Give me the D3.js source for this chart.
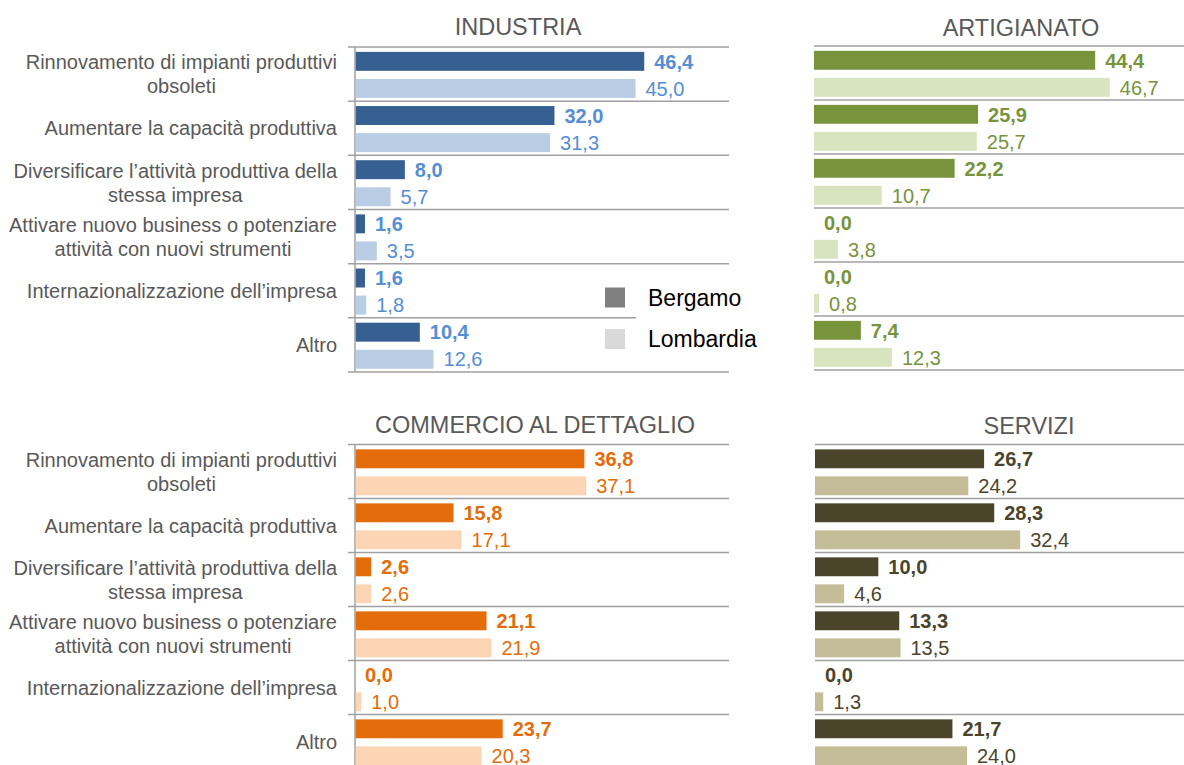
<!DOCTYPE html>
<html><head><meta charset="utf-8">
<script src="https://cdn.jsdelivr.net/npm/d3@7"></script>
<style>
body{margin:0;background:#fff;}
text{font-family:Arial,"Liberation Sans",sans-serif;}
</style></head>
<body>
<svg id="chart" width="1184" height="765"></svg>
<script>
const categories = [
  ["Rinnovamento di impianti produttivi","obsoleti"],
  ["Aumentare la capacità produttiva"],
  ["Diversificare l’attività produttiva della","stessa impresa"],
  ["Attivare nuovo business o potenziare","attività con nuovi strumenti"],
  ["Internazionalizzazione dell’impresa"],
  ["Altro"]
];
const seriesNames = ["Bergamo","Lombardia"];
const panelTitles = ["INDUSTRIA","ARTIGIANATO","COMMERCIO AL DETTAGLIO","SERVIZI"];
const industriaBergamo   = [46.4, 32.0, 8.0, 1.6, 1.6, 10.4];
const industriaLombardia = [45.0, 31.3, 5.7, 3.5, 1.8, 12.6];
const artigianatoBergamo   = [44.4, 25.9, 22.2, 0.0, 0.0, 7.4];
const artigianatoLombardia = [46.7, 25.7, 10.7, 3.8, 0.8, 12.3];
const commercioBergamo   = [36.8, 15.8, 2.6, 21.1, 0.0, 23.7];
const commercioLombardia = [37.1, 17.1, 2.6, 21.9, 1.0, 20.3];
const serviziBergamo   = [26.7, 28.3, 10.0, 13.3, 0.0, 21.7];
const serviziLombardia = [24.2, 32.4, 4.6, 13.5, 1.3, 24.0];
const xMax = 60;

const panels = [
  {title:panelTitles[0], b:industriaBergamo, l:industriaLombardia, cb:"#376092", cl:"#B9CDE5", ct:"#558ED5",
   x0:355, x1:729, y0:47, y1:372, tx:518, ty:35, labels:true, axis:true},
  {title:panelTitles[1], b:artigianatoBergamo, l:artigianatoLombardia, cb:"#77933C", cl:"#D7E4BD", ct:"#77933C",
   x0:814, x1:1194, y0:46, y1:370, tx:1021, ty:36, labels:false, axis:false},
  {title:panelTitles[2], b:commercioBergamo, l:commercioLombardia, cb:"#E46C0A", cl:"#FCD5B5", ct:"#E46C0A",
   x0:355, x1:729, y0:444.5, y1:768.5, tx:535, ty:433, labels:true, axis:true},
  {title:panelTitles[3], b:serviziBergamo, l:serviziLombardia, cb:"#4A452A", cl:"#C4BD97", ct:"#4A452A",
   x0:815, x1:1195, y0:444.5, y1:768.5, tx:1029, ty:434, labels:false, axis:false}
];

const svg = d3.select("#chart");
const fmt = v => d3.format(".1f")(v).replace(".", ",");
const catIdx = d3.range(categories.length);

panels.forEach(p => {
  const g = svg.append("g");
  const x = d3.scaleLinear().domain([0, xMax]).range([p.x0, p.x1]);
  const y = d3.scaleBand().domain(catIdx).range([p.y0, p.y1]).padding(0);
  const yi = d3.scaleBand().domain(seriesNames).range([0, y.bandwidth()])
    .paddingInner(0.3).paddingOuter(0.15).align(0.6);

  g.append("text").attr("x", p.tx).attr("y", p.ty).attr("text-anchor","middle")
    .attr("font-size", 23.5).attr("fill","#595959").text(p.title);

  const bounds = d3.range(categories.length + 1).map(i => i < categories.length ? y(i) : p.y1);
  g.selectAll("line.sep").data(bounds).enter().append("line")
    .attr("x1", p.axis ? p.x0 - 7 : p.x0).attr("x2", Math.min(p.x1, 1184))
    .attr("y1", d => d).attr("y2", d => d)
    .attr("stroke","#A0A0A0").attr("stroke-width",1.5);
  if (p.axis) {
    g.append("line").attr("x1", p.x0).attr("x2", p.x0).attr("y1", p.y0).attr("y2", p.y1)
      .attr("stroke","#A0A0A0").attr("stroke-width",1.5);
  }

  const rows = [];
  catIdx.forEach(i => {
    rows.push({i, s:"Bergamo", v:p.b[i]});
    rows.push({i, s:"Lombardia", v:p.l[i]});
  });

  g.selectAll("rect.bar").data(rows).enter().append("rect")
    .attr("x", x(0) + (p.axis ? 0.75 : 0))
    .attr("y", d => y(d.i) + yi(d.s))
    .attr("width", d => Math.max(0, x(d.v) - x(0) - (p.axis ? 0.75 : 0)))
    .attr("height", yi.bandwidth())
    .attr("fill", d => d.s === "Bergamo" ? p.cb : p.cl);

  g.selectAll("text.val").data(rows).enter().append("text")
    .attr("x", d => x(d.v) + 10)
    .attr("y", d => y(d.i) + yi(d.s) + yi.bandwidth()/2)
    .attr("dy","0.36em")
    .attr("font-size", 20)
    .attr("font-weight", d => d.s === "Bergamo" ? "bold" : "normal")
    .attr("fill", p.ct)
    .text(d => fmt(d.v));

  if (p.labels) {
    const right = p.x0 - 18;
    catIdx.forEach(i => {
      const lines = categories[i];
      const cy = y(i) + y.bandwidth()/2;
      const t = g.append("text").attr("font-size", 20).attr("fill","#595959");
      const spans = lines.map((ln, k) => t.append("tspan").text(ln));
      const widths = spans.map(s => s.node().getComputedTextLength());
      const w = d3.max(widths);
      const cx = right - w/2;
      spans.forEach((s, k) => {
        s.attr("x", cx).attr("text-anchor","middle")
         .attr("y", cy + (k - (lines.length-1)/2) * 24).attr("dy","0.36em");
      });
    });
  }
});

const leg = svg.append("g");
leg.append("rect").attr("x",636).attr("y",272).attr("width",140).attr("height",90).attr("fill","#fff");
const legColors = ["#808080","#D9D9D9"];
const ly = d3.scalePoint().domain(seriesNames).range([297.5, 339]);
leg.selectAll("rect.sw").data(seriesNames).enter().append("rect")
  .attr("x",605).attr("y", d => ly(d) - 10).attr("width",20).attr("height",20)
  .attr("fill", (d,i) => legColors[i]);
leg.selectAll("text.lt").data(seriesNames).enter().append("text")
  .attr("x",648).attr("y", d => ly(d)).attr("dy","0.36em")
  .attr("font-size",23).attr("fill","#000").text(d => d);
</script>
</body></html>
